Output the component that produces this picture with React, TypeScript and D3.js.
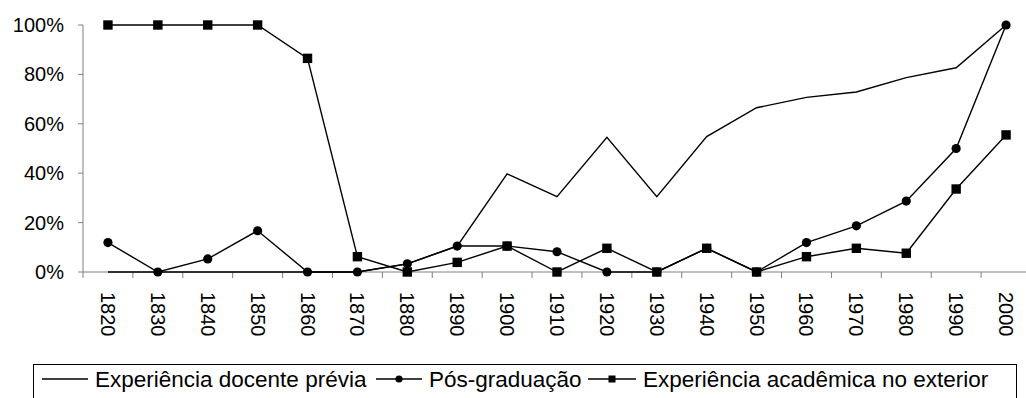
import React from "react";
import * as d3 from "d3";

// Decades on the horizontal axis
const decades: string[] = [
  "1820", "1830", "1840", "1850", "1860", "1870", "1880", "1890", "1900", "1910",
  "1920", "1930", "1940", "1950", "1960", "1970", "1980", "1990", "2000",
];

// Share of professors (0–1) per decade
const experienciaDocente: number[] = [
  0, 0, 0, 0, 0, 0, 0.033, 0.105, 0.397, 0.305, 0.545, 0.305, 0.548, 0.665, 0.707, 0.729, 0.787, 0.827, 1.0,
];
const posGraduacao: number[] = [
  0.119, 0, 0.053, 0.167, 0, 0, 0.033, 0.105, 0.105, 0.082, 0, 0, 0.096, 0, 0.119, 0.187, 0.287, 0.5, 1.0,
];
const experienciaExterior: number[] = [
  1.0, 1.0, 1.0, 1.0, 0.865, 0.062, 0, 0.039, 0.105, 0, 0.096, 0, 0.096, 0, 0.062, 0.096, 0.076, 0.336, 0.555,
];

const yTicks: number[] = [0, 0.2, 0.4, 0.6, 0.8, 1.0];

const seriesNames: string[] = [
  "Experiência docente prévia",
  "Pós-graduação",
  "Experiência acadêmica no exterior",
];

const W = 1026;
const H = 398;
const FONT = "'Liberation Sans', Arial, sans-serif";
const AXIS = "#808080";

export default function App() {
  const x = d3.scaleBand<string>().domain(decades).range([83, 1031]).padding(0);
  const y = d3.scaleLinear().domain([0, 1]).range([272, 25]);
  const cx = (d: string) => (x(d) ?? 0) + x.bandwidth() / 2;

  const line = d3
    .line<[string, number]>()
    .x((d) => cx(d[0]))
    .y((d) => y(d[1]));

  const zip = (vals: number[]) => decades.map((d, i) => [d, vals[i]] as [string, number]);
  const pct = d3.format(".0%");
  const boundaries = decades.map((d) => x(d) ?? 0).concat([x.range()[1]]);

  const legendY = 379;

  return (
    <svg
      width={W}
      height={H}
      style={{ position: "absolute", left: 0, top: 0, background: "#fff" }}
      fontFamily={FONT}
    >
      {/* y axis */}
      <line x1={83} x2={83} y1={y(1)} y2={y(0)} stroke={AXIS} strokeWidth={1} />
      {yTicks.map((t) => (
        <g key={t}>
          <line x1={78} x2={83} y1={y(t)} y2={y(t)} stroke={AXIS} strokeWidth={1} />
          <text x={64} y={y(t)} textAnchor="end" dominantBaseline="central" fontSize={20} fill="#000">
            {pct(t)}
          </text>
        </g>
      ))}

      {/* x axis */}
      <line x1={83} x2={x.range()[1]} y1={y(0)} y2={y(0)} stroke={AXIS} strokeWidth={1} />
      {boundaries.map((b, i) => (
        <line key={i} x1={b} x2={b} y1={y(0)} y2={y(0) + 6} stroke={AXIS} strokeWidth={1} />
      ))}
      {decades.map((d) => (
        <text
          key={d}
          transform={`translate(${cx(d)},292) rotate(90)`}
          textAnchor="start"
          dominantBaseline="central"
          fontSize={20}
          fill="#000"
        >
          {d}
        </text>
      ))}

      {/* series */}
      <path d={line(zip(experienciaDocente)) ?? ""} fill="none" stroke="#000" strokeWidth={1.4} />
      <path d={line(zip(posGraduacao)) ?? ""} fill="none" stroke="#000" strokeWidth={1.4} />
      <path d={line(zip(experienciaExterior)) ?? ""} fill="none" stroke="#000" strokeWidth={1.4} />
      {posGraduacao.map((v, i) => (
        <circle key={`c${i}`} cx={cx(decades[i])} cy={y(v)} r={4.6} fill="#000" />
      ))}
      {experienciaExterior.map((v, i) => (
        <rect key={`s${i}`} x={cx(decades[i]) - 4.7} y={y(v) - 4.7} width={9.4} height={9.4} fill="#000" />
      ))}

      {/* legend */}
      <rect x={33.5} y={364.5} width={983} height={45} fill="none" stroke="#000" strokeWidth={1} />
      <line x1={42} x2={88} y1={legendY} y2={legendY} stroke="#000" strokeWidth={1.4} />
      <text x={95} y={legendY} dominantBaseline="central" fontSize={22.5}>{seriesNames[0]}</text>

      <line x1={376} x2={422} y1={legendY} y2={legendY} stroke="#000" strokeWidth={1.4} />
      <circle cx={399} cy={legendY} r={3.6} fill="#000" />
      <text x={429} y={legendY} dominantBaseline="central" fontSize={22.5}>{seriesNames[1]}</text>

      <line x1={588} x2={636} y1={legendY} y2={legendY} stroke="#000" strokeWidth={1.4} />
      <rect x={608.5} y={legendY - 3.5} width={7} height={7} fill="#000" />
      <text x={643} y={legendY} dominantBaseline="central" fontSize={22.5}>{seriesNames[2]}</text>
    </svg>
  );
}
